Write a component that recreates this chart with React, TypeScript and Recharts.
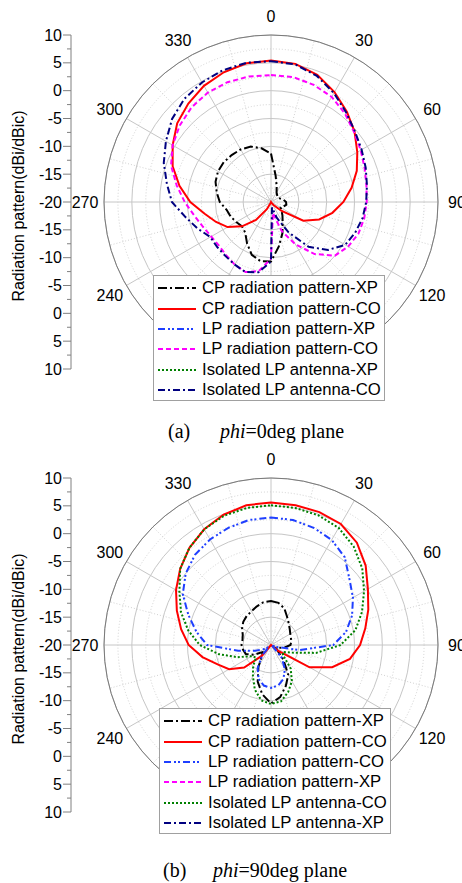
import React from 'react';
import {
  RadarChart,
  Radar,
  PolarGrid,
  PolarAngleAxis,
  PolarRadiusAxis,
  LineChart,
  XAxis,
  YAxis,
} from 'recharts';

const SANS = '"Liberation Sans", Arial, sans-serif';
const SERIF = '"Liberation Serif", "Times New Roman", serif';

// sample angles, degrees clockwise from the top
const angles = [
  0, 10, 20, 30, 40, 50, 60, 70, 80, 90, 100, 110, 120, 130, 140, 150, 160, 170,
  180, 190, 200, 210, 220, 230, 240, 250, 260, 270, 280, 290, 300, 310, 320, 330, 340, 350,
];

// angle labels that are not hidden by the legend box
const angleLabels = [0, 30, 60, 90, 120, 240, 270, 300, 330];

// grid rings (dB) and spokes (deg)
const majorRings = [-20, -15, -10, -5, 0, 5, 10];
const minorRings = [-17.5, -12.5, -7.5, -2.5, 2.5, 7.5];
const majorSpokes = [0, 30, 60, 90, 120, 150, 180, 210, 240, 270, 300, 330];
const minorSpokes = [15, 45, 75, 105, 135, 165, 195, 225, 255, 285, 315, 345];

// mirrored scale on the left: -30..30 shown as 10..-20..10
const sideTicks = [
  -30, -27.5, -25, -22.5, -20, -17.5, -15, -12.5, -10, -7.5, -5, -2.5, 0,
  2.5, 5, 7.5, 10, 12.5, 15, 17.5, 20, 22.5, 25, 27.5, 30,
];

// (a) phi = 0deg plane
const aCpXp = [
  -11.3, -15.2, -17.0, -18.0, -18.3, -18.5, -18.5, -18.2, -17.7, -17.3, -17.2, -17.6, -18.0, -17.5, -16.8, -15.8, -14.0, -11.9,
  -9.3, -9.2, -9.9, -11.4, -12.8, -13.2, -12.8, -12.3, -11.9, -10.8, -10.1, -9.4, -9.0, -8.9, -9.0, -9.1, -9.4, -10.2,
];
const aCpCo = [
  5.4, 5.2, 4.3, 2.8, 1.2, -0.4, -2.1, -3.6, -5.3, -7.0, -8.8, -10.8, -13.3, -17.5, -19.3, -19.8, -20, -20,
  -20, -20, -19.8, -18.5, -15.8, -13.2, -11.0, -9.5, -7.9, -5.5, -3.3, -1.2, 0.4, 2.0, 3.1, 4.1, 4.8, 5.3,
];
const aLpXp = [
  -20, -20, -20, -20, -20, -20, -20, -20, -20, -20, -20, -20, -20, -20, -20, -20, -20, -20,
  -20, -20, -20, -20, -20, -20, -20, -20, -20, -20, -20, -20, -20, -20, -20, -20, -20, -20,
];
const aLpCo = [
  2.8, 2.8, 2.4, 1.8, 0.7, -0.5, -1.4, -2.1, -2.6, -2.8, -3.0, -3.3, -4.0, -5.0, -7.8, -11.2, -14.5, -18.0,
  -9.8, -7.4, -6.6, -7.0, -7.5, -7.8, -7.6, -7.0, -6.0, -4.5, -2.8, -0.9, 0.4, 1.4, 2.2, 2.7, 2.9, 2.9,
];
const aIsoXp = [
  -20, -20, -20, -20, -20, -20, -20, -20, -20, -20, -20, -20, -20, -20, -20, -20, -20, -20,
  -20, -20, -20, -20, -20, -20, -20, -20, -20, -20, -20, -20, -20, -20, -20, -20, -20, -20,
];
const aIsoCo = [
  5.3, 5.1, 4.1, 2.6, 1.0, -0.3, -1.2, -1.9, -2.5, -2.9, -3.3, -3.9, -4.6, -6.6, -9.5, -13.7, -17.0, -19.0,
  -9.3, -7.2, -6.6, -7.0, -7.3, -7.4, -7.4, -6.0, -4.4, -2.2, -1.0, 0.5, 1.8, 3.2, 4.2, 4.8, 5.2, 5.4,
];

// (b) phi = 90deg plane
const bCpXp = [
  -12.1, -12.3, -13.0, -14.2, -15.0, -15.6, -16.0, -16.2, -16.3, -16.5, -17.5, -18.5, -19.0, -18.5, -16.5, -13.8, -12.2, -10.5,
  -9.5, -11.0, -13.0, -15.5, -17.5, -18.0, -16.5, -15.2, -14.9, -14.7, -14.8, -14.6, -14.0, -13.5, -13.2, -13.0, -12.6, -12.2,
];
const bCpCo = [
  5.6, 5.5, 5.4, 5.1, 4.0, 2.2, 0.1, -1.4, -2.8, -4.0, -5.6, -8.3, -12.0, -18.5, -20, -20, -20, -20,
  -20, -20, -20, -20, -17.5, -13.7, -11.3, -9.8, -7.5, -5.2, -3.6, -2.0, -0.3, 1.3, 2.8, 4.0, 4.9, 5.5,
];
const bLpCo = [
  2.9, 2.8, 2.4, 1.8, 0.6, -1.6, -3.0, -4.5, -6.3, -8.8, -14.8, -19.0, -20, -19.5, -17.0, -15.0, -13.5, -12.6,
  -12.3, -12.6, -13.5, -15.2, -17.5, -19.5, -18.5, -17.0, -14.0, -8.5, -6.4, -4.2, -1.7, 0.0, 1.2, 1.9, 2.4, 2.8,
];
const bLpXp = [
  -20, -20, -20, -20, -20, -20, -20, -20, -20, -20, -20, -20, -20, -20, -20, -20, -20, -20,
  -20, -20, -20, -20, -20, -20, -20, -20, -20, -20, -20, -20, -20, -20, -20, -20, -20, -20,
];
const bIsoCo = [
  5.1, 5.0, 4.8, 4.3, 3.1, 1.4, -0.7, -2.6, -4.6, -7.5, -11.8, -16.0, -17.5, -17.2, -14.5, -12.5, -11.0, -9.7,
  -9.4, -9.9, -11.5, -13.5, -15.0, -16.5, -16.0, -13.6, -10.5, -7.2, -4.9, -2.8, -1.0, 1.3, 2.8, 4.0, 4.7, 5.0,
];
const bIsoXp = [
  -20, -20, -20, -20, -20, -20, -20, -20, -20, -20, -20, -20, -20, -20, -20, -20, -20, -20,
  -20, -20, -20, -20, -20, -20, -20, -20, -20, -20, -20, -20, -20, -20, -20, -20, -20, -20,
];

// line style by legend slot (same in both panels)
const lineStyles = [
  { stroke: '#000000', dash: '9 3 2 3' },
  { stroke: '#ff0000', dash: undefined },
  { stroke: '#1f3fff', dash: '7 3 2 2 2 3' },
  { stroke: '#ff00ff', dash: '5 3' },
  { stroke: '#008000', dash: '2 2' },
  { stroke: '#000080', dash: '7 3 2 3' },
];

type Series = { key: string; name: string; values: number[] };

const seriesA: Series[] = [
  { key: 'cpXp', name: 'CP radiation pattern-XP', values: aCpXp },
  { key: 'cpCo', name: 'CP radiation pattern-CO', values: aCpCo },
  { key: 'lpXp', name: 'LP radiation pattern-XP', values: aLpXp },
  { key: 'lpCo', name: 'LP radiation pattern-CO', values: aLpCo },
  { key: 'isoXp', name: 'Isolated LP antenna-XP', values: aIsoXp },
  { key: 'isoCo', name: 'Isolated LP antenna-CO', values: aIsoCo },
];

const seriesB: Series[] = [
  { key: 'cpXp', name: 'CP radiation pattern-XP', values: bCpXp },
  { key: 'cpCo', name: 'CP radiation pattern-CO', values: bCpCo },
  { key: 'lpCo', name: 'LP radiation pattern-CO', values: bLpCo },
  { key: 'lpXp', name: 'LP radiation pattern-XP', values: bLpXp },
  { key: 'isoCo', name: 'Isolated LP antenna-CO', values: bIsoCo },
  { key: 'isoXp', name: 'Isolated LP antenna-XP', values: bIsoXp },
];

const renderAngleTick = (props: any) => {
  const { x, y, payload } = props;
  if (!angleLabels.includes(payload.value)) return <g />;
  return (
    <text x={x} y={y} textAnchor="middle" dominantBaseline="central" fontFamily={SANS} fontSize={16} fill="#000">
      {payload.value}
    </text>
  );
};

const renderSideTick = (props: any) => {
  const { x, y, payload } = props;
  const major = payload.value % 5 === 0;
  return (
    <g>
      <line x1={major ? x + 1 : x + 5} y1={y} x2={x + 9} y2={y} stroke="#808080" />
      {major && (
        <text x={x} y={y} textAnchor="end" dominantBaseline="central" fontFamily={SANS} fontSize={16} fill="#000">
          {Math.abs(payload.value) - 20}
        </text>
      )}
    </g>
  );
};

const renderSideLabel = (props: any) => {
  const vb = props.viewBox ?? { y: 35, height: 334 };
  const cy = vb.y + vb.height / 2 + 4;
  return (
    <text
      x={18}
      y={cy}
      transform={`rotate(-90, 18, ${cy})`}
      textAnchor="middle"
      dominantBaseline="central"
      fontFamily={SANS}
      fontSize={16}
      fill="#000"
    >
      Radiation pattern(dBi/dBic)
    </text>
  );
};

interface PanelProps {
  top: number;
  series: Series[];
  legendLeft: number;
  legendTop: number;
  tag: string;
  caption: string;
  tagLeft: number;
  captionLeft: number;
  captionTop: number;
}

const Panel: React.FC<PanelProps> = ({
  top,
  series,
  legendLeft,
  legendTop,
  tag,
  caption,
  tagLeft,
  captionLeft,
  captionTop,
}) => {
  const data = angles.map((angle, i) => {
    const row: Record<string, number> = { angle };
    series.forEach(s => {
      row[s.key] = s.values[i];
    });
    return row;
  });

  return (
    <div style={{ position: 'absolute', left: 0, top, width: 462, height: 440 }}>
      <div style={{ position: 'absolute', left: 0, top: 0 }}>
        <LineChart width={90} height={400} margin={{ top: 35, right: 0, bottom: 31, left: 0 }}>
          <XAxis hide />
          <YAxis
            type="number"
            domain={[-30, 30]}
            ticks={sideTicks}
            interval={0}
            width={71}
            tickSize={8}
            tickMargin={1}
            tickLine={false}
            axisLine={{ stroke: '#808080' }}
            tick={renderSideTick}
            label={renderSideLabel}
            allowDataOverflow
          />
        </LineChart>
      </div>

      <div style={{ position: 'absolute', left: 0, top: 0 }}>
        <RadarChart
          width={462}
          height={400}
          data={data}
          cx={271}
          cy={202}
          outerRadius={167}
          startAngle={90}
          endAngle={-270}
          margin={{ top: 0, right: 0, bottom: 0, left: 0 }}
        >
          <PolarRadiusAxis
            radiusAxisId="minor"
            type="number"
            domain={[-20, 10]}
            ticks={minorRings}
            tick={false}
            axisLine={false}
            allowDataOverflow
          />
          <PolarRadiusAxis
            type="number"
            domain={[-20, 10]}
            ticks={majorRings}
            tick={false}
            axisLine={false}
            allowDataOverflow
          />
          <PolarGrid
            radiusAxisId="minor"
            gridType="circle"
            innerRadius={14}
            polarAngles={minorSpokes}
            stroke="#d2d2d2"
            strokeDasharray="1 2"
          />
          <PolarGrid gridType="circle" innerRadius={14} polarAngles={majorSpokes} stroke="#c6c6c6" />
          <PolarAngleAxis
            dataKey="angle"
            type="category"
            axisLineType="circle"
            axisLine={{ stroke: '#7a7a7a' }}
            tickLine={false}
            tickSize={19}
            tick={renderAngleTick}
          />
          {series.map((s, i) => (
            <Radar
              key={s.key}
              dataKey={s.key}
              name={s.name}
              stroke={lineStyles[i].stroke}
              strokeDasharray={lineStyles[i].dash}
              strokeWidth={2}
              fill="none"
              fillOpacity={0}
              dot={false}
              isAnimationActive={false}
            />
          ))}
        </RadarChart>
      </div>

      <div
        style={{
          position: 'absolute',
          left: legendLeft,
          top: legendTop,
          width: 232,
          height: 126,
          boxSizing: 'border-box',
          border: '1px solid #a0a0a0',
          background: '#fff',
          padding: '2px 0 0 3px',
          fontFamily: SANS,
          fontSize: 16.7,
          color: '#000',
        }}
      >
        {series.map((s, i) => (
          <div key={s.key} style={{ display: 'flex', alignItems: 'center', height: 20.4, whiteSpace: 'nowrap' }}>
            <svg width={40} height={6} style={{ flex: 'none' }}>
              <line
                x1={1}
                y1={3}
                x2={39}
                y2={3}
                stroke={lineStyles[i].stroke}
                strokeWidth={2}
                strokeDasharray={lineStyles[i].dash}
              />
            </svg>
            <span style={{ marginLeft: 5 }}>{s.name}</span>
          </div>
        ))}
      </div>

      <div
        style={{
          position: 'absolute',
          left: 0,
          top: captionTop,
          width: 462,
          height: 26,
          fontFamily: SERIF,
          fontSize: 20,
          lineHeight: '26px',
          color: '#000',
        }}
      >
        <span style={{ position: 'absolute', left: tagLeft }}>{tag}</span>
        <span style={{ position: 'absolute', left: captionLeft }}>
          <i>phi</i>
          {caption}
        </span>
      </div>
    </div>
  );
};

export default function App() {
  return (
    <div
      style={{
        position: 'absolute',
        left: 0,
        top: 0,
        width: 462,
        height: 883,
        background: '#fff',
        overflow: 'hidden',
      }}
    >
      <Panel
        top={0}
        series={seriesA}
        legendLeft={153}
        legendTop={275}
        tag="(a)"
        caption="=0deg plane"
        tagLeft={168}
        captionLeft={220}
        captionTop={418}
      />
      <Panel
        top={443}
        series={seriesB}
        legendLeft={159}
        legendTop={265}
        tag="(b)"
        caption="=90deg plane"
        tagLeft={163}
        captionLeft={213}
        captionTop={414}
      />
    </div>
  );
}
